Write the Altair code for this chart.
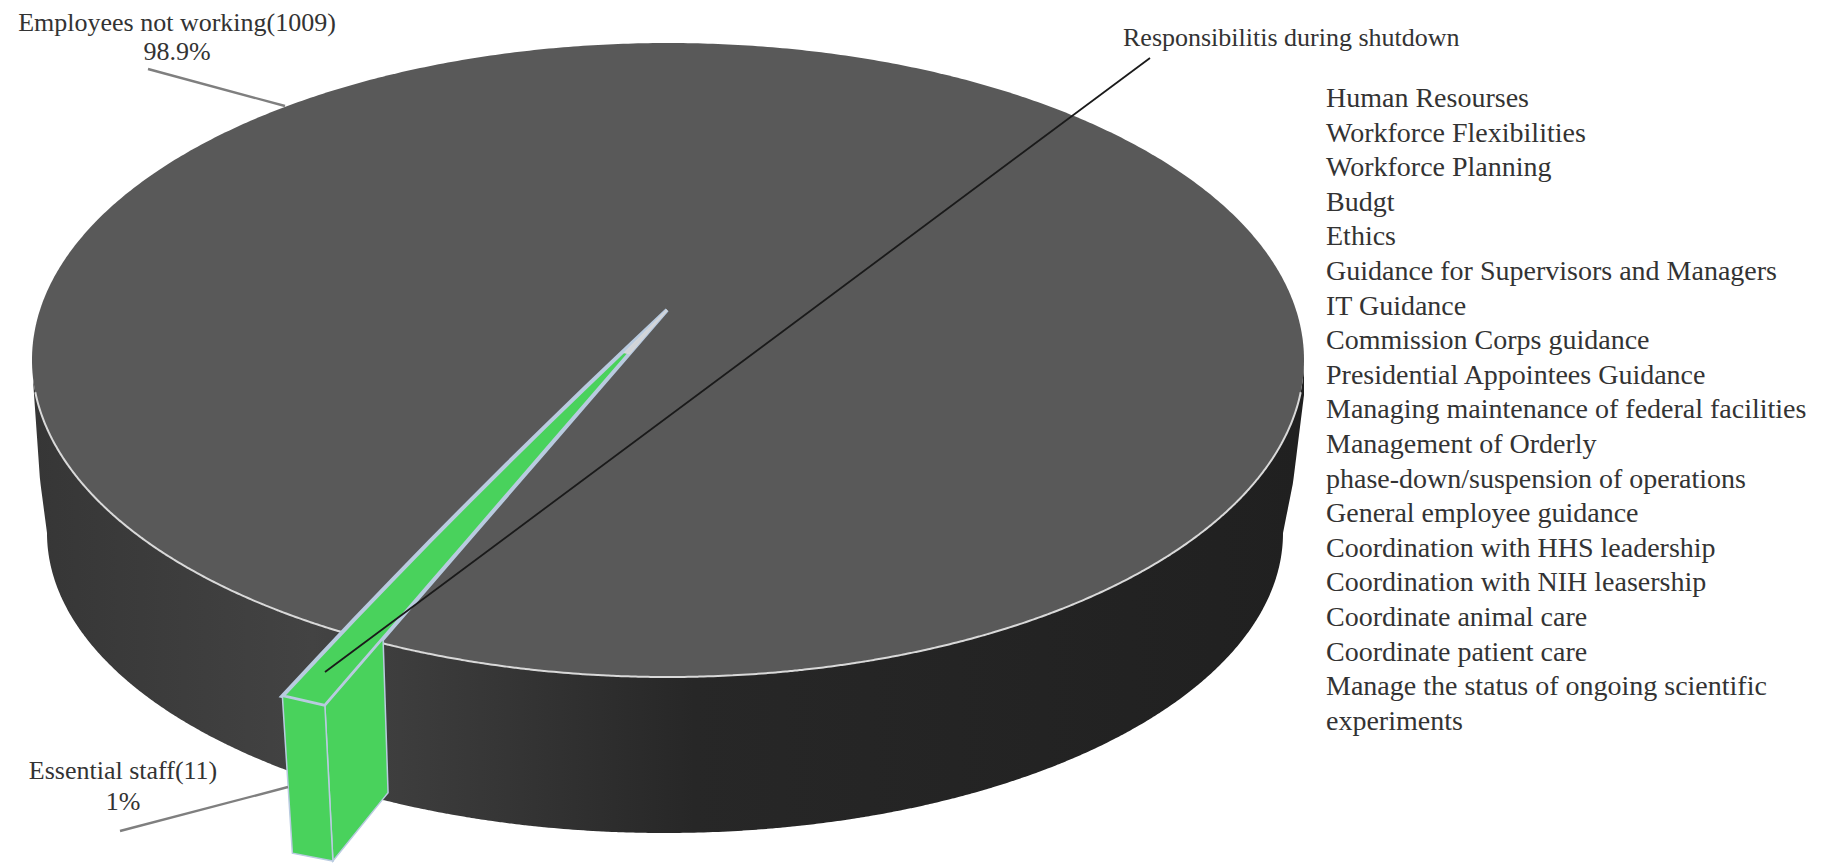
import math
import altair as alt
import pandas as pd

# --- chart values -------------------------------------------------------
categories = ["Employees not working", "Essential staff"]
staff_counts = [1009, 11]
pct_labels = ["98.9%", "1%"]
responsibilities_title = "Responsibilitis during shutdown"
responsibilities = [
    "Human Resourses", "Workforce Flexibilities", "Workforce Planning", "Budgt",
    "Ethics", "Guidance for Supervisors and Managers", "IT  Guidance",
    "Commission Corps guidance", "Presidential Appointees Guidance",
    "Managing maintenance of federal facilities", "Management of Orderly",
    "phase-down/suspension of operations", "General employee guidance",
    "Coordination with HHS leadership", "Coordination with NIH leasership",
    "Coordinate animal care", "Coordinate patient care",
    "Manage the status of ongoing scientific", "experiments",
]

# --- layout (image pixels) ----------------------------------------------
W, H, M = 1806, 856, 8
CX, CY, RX, RY = 668, 360, 636, 317       # top face of the disc
BX, BY, BRX, BRY = 665, 533, 618, 300     # bottom edge of the disc
LEFT_SILHOUETTE = [(33, 380), (40, 480), (47, 533)]
RIGHT_SILHOUETTE = [(1283, 533), (1293, 483), (1304, 395)]
TIP = (667, 310)                          # apex of the pulled-out slice
EXPLODE = 1.36                            # slice radius on screen
MID_ANGLE = 114.85                        # slice direction, degrees
FORESHORTEN = 0.8
DROP = [(10, 157), (8, 155), (5, 154)]    # extrusion at the slice corners
SIDE_FRACTION = 0.17                      # part of the radial wall in view
BOW = 7                                   # slight outward bow of the left edge
PALE_TIP = 0.11                           # part of the slice drawn pale at the apex
FONT = "Liberation Serif"
TEXT = "#333333"

xs = alt.Scale(domain=[M, M + W], range=[0, W])
ys = alt.Scale(domain=[M, M + H], range=[0, H])
X = alt.X("x:Q", scale=xs, axis=None)
Y = alt.Y("y:Q", scale=ys, axis=None)
Y2 = alt.Y2("y2:Q")


def grid(cx, rx, n=400):
    return [cx - rx * math.cos(math.pi * i / n) for i in range(n + 1)]


def half(x, cx, rx, ry):
    return ry * math.sqrt(max(0.0, 1 - ((x - cx) / rx) ** 2))


def polygon_rows(pts):
    """Convex polygon as x / upper / lower rows for an area mark."""
    rows = []
    for x in sorted({p[0] for p in pts}):
        hits = []
        n = len(pts)
        for i in range(n):
            (x0, y0), (x1, y1) = pts[i], pts[(i + 1) % n]
            if min(x0, x1) <= x <= max(x0, x1):
                if x0 == x1:
                    hits += [y0, y1]
                else:
                    hits.append(y0 + (y1 - y0) * (x - x0) / (x1 - x0))
        rows.append({"x": x, "y": min(hits), "y2": max(hits)})
    return pd.DataFrame(rows)


def along(path, x):
    for (x0, y0), (x1, y1) in zip(path, path[1:]):
        if x0 <= x <= x1:
            return y0 + (y1 - y0) * (x - x0) / (x1 - x0)
    return path[-1][1]


# disc
top_rows = pd.DataFrame(
    [{"x": x, "y": CY - half(x, CX, RX, RY), "y2": CY + half(x, CX, RX, RY)} for x in grid(CX, RX)]
)


def bottom_edge(x):
    if x < BX - BRX:
        return along(LEFT_SILHOUETTE, x)
    if x > BX + BRX:
        return along(RIGHT_SILHOUETTE, x)
    return BY + half(x, BX, BRX, BRY)


side_x = sorted(
    [x for x in grid(CX, RX) if 33 <= x <= 1304] + grid(BX, BRX)
)
side_rows = pd.DataFrame(
    [{"x": x, "y": CY + half(x, CX, RX, RY), "y2": bottom_edge(x)} for x in side_x]
)
rim_rows = side_rows[(side_rows.y > 392)][["x", "y"]]

side_fill = alt.Gradient(
    gradient="linear", x1=0, x2=1, y1=0, y2=0,
    stops=[
        alt.GradientStop(offset=0, color="#363636"),
        alt.GradientStop(offset=0.22, color="#434343"),
        alt.GradientStop(offset=0.3, color="#3c3c3c"),
        alt.GradientStop(offset=0.52, color="#272727"),
        alt.GradientStop(offset=1, color="#202020"),
    ],
)

# slice, sized by its share of the staff
share = staff_counts[1] / sum(staff_counts)
span = share * 360 * FORESHORTEN


def outer(angle):
    a = math.radians(angle)
    return (TIP[0] + RX * EXPLODE * math.cos(a), TIP[1] + RY * EXPLODE * math.sin(a))


def toward_tip(p, f):
    return (p[0] + (TIP[0] - p[0]) * f, p[1] + (TIP[1] - p[1]) * f)


outer_l = outer(MID_ANGLE + span / 2)
outer_r = outer(MID_ANGLE - span / 2)
inner_r = toward_tip(outer_r, SIDE_FRACTION)
bow_pts = []
for i in range(1, 10):
    f = i / 10
    p = toward_tip(outer_l, f)
    bow_pts.append((p[0] - BOW * 4 * f * (1 - f), p[1]))


def lowered(p, d):
    return (p[0] + d[0], p[1] + d[1])


wedge_top = polygon_rows([TIP, outer_r, outer_l] + bow_pts)
wedge_front = polygon_rows([outer_l, outer_r, lowered(outer_r, DROP[1]), lowered(outer_l, DROP[0])])
wedge_side = polygon_rows([outer_r, inner_r, lowered(inner_r, DROP[2]), lowered(outer_r, DROP[1])])
pale_tip = polygon_rows([TIP, toward_tip(outer_r, 1 - PALE_TIP), toward_tip(outer_l, 1 - PALE_TIP)])

GREEN, EDGE = "#49d25c", "#b9cbe0"


def area(df, **kw):
    return alt.Chart(df).mark_area(**kw).encode(x=X, y=Y, y2=Y2)


def leader(x0, y0, x1, y1, color, width):
    df = pd.DataFrame({"x": [x0, x1], "y": [y0, y1]})
    return alt.Chart(df).mark_line(color=color, strokeWidth=width).encode(x=X, y=Y)


def label(x, y, text, size, align="center"):
    df = pd.DataFrame({"x": [x], "y": [y], "t": [text]})
    return alt.Chart(df).mark_text(
        font=FONT, fontSize=size, color=TEXT, align=align, baseline="middle"
    ).encode(x=X, y=Y, text="t:N")


list_rows = pd.DataFrame(
    {"x": [1326] * len(responsibilities), "y": [99 + 34.6 * i for i in range(len(responsibilities))], "t": responsibilities}
)
list_text = alt.Chart(list_rows).mark_text(
    font=FONT, fontSize=28, color=TEXT, align="left", baseline="middle"
).encode(x=X, y=Y, text="t:N")

layers = [
    area(side_rows, color=side_fill),
    area(top_rows, color="#595959"),
    alt.Chart(rim_rows).mark_line(color="#d9d9d9", strokeWidth=2).encode(x=X, y=Y),
    area(wedge_top, color=GREEN, stroke=EDGE, strokeWidth=4),
    area(pale_tip, color="#d0d4d8", stroke="#d4d6d9", strokeWidth=1.5),
    area(wedge_side, color=GREEN, stroke=EDGE, strokeWidth=1.5),
    area(wedge_front, color=GREEN, stroke=EDGE, strokeWidth=1.5),
    leader(148, 69, 285, 106, "#7f7f7f", 2.4),
    leader(120, 831, 288, 787, "#7f7f7f", 2.4),
    leader(1150, 58, 325, 672, "#1a1a1a", 1.8),
    label(177, 23, f"{categories[0]}({staff_counts[0]})", 26),
    label(177, 52, pct_labels[0], 26),
    label(123, 771, f"{categories[1]}({staff_counts[1]})", 26),
    label(123, 802, pct_labels[1], 26),
    label(1123, 38, responsibilities_title, 26, "left"),
    list_text,
]

chart = (
    alt.layer(*layers)
    .properties(width=W, height=H, padding=0, autosize=alt.AutoSizeParams(type="none"))
    .configure_view(stroke=None)
)
chart.save("out.html", embed_options={"renderer": "svg", "actions": False})
